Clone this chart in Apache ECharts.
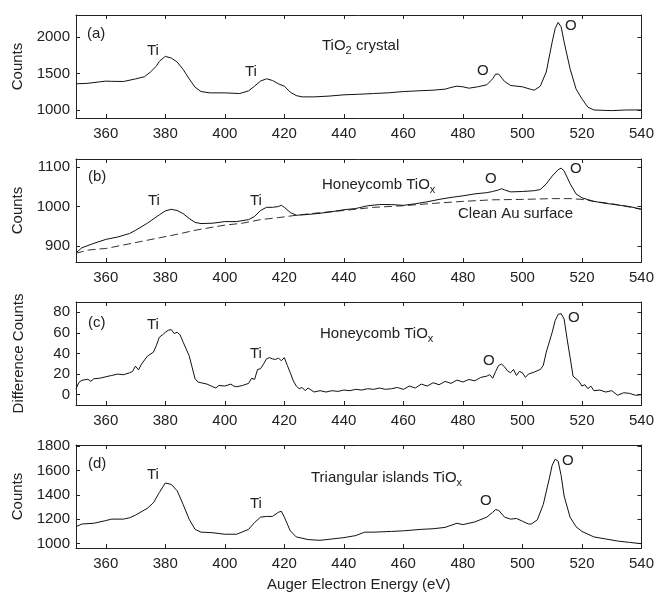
<!DOCTYPE html>
<html lang="en">
<head>
    <meta charset="UTF-8">
    <title>Auger spectra</title>
    <style>
        html, body { margin: 0; padding: 0; background: #fff; }
        #main { width: 657px; height: 597px; }
    </style>
    <script src="https://cdn.jsdelivr.net/npm/echarts@6/dist/echarts.min.js"></script>
</head>
<body>

<div id="main"></div>

<script>

    // (a) TiO2 crystal
    var energyA = [350,354,358,360,362,366,370,373,375,377,378,380,382,384,386,388,390,392,395,400,405,408,410,412,414,416,418,420,422,424,426,430,435,440,445,450,455,460,465,470,474,476,478,480,482,485,488,490,491,492,494,496,500,503,504,506,508,510,511,512,513,514,516,518,520,522,524,527,530,535,540];
    var countsA = [1358,1365,1385,1395,1392,1390,1425,1455,1519,1600,1665,1734,1711,1656,1555,1427,1312,1252,1234,1234,1225,1262,1326,1395,1427,1404,1358,1326,1243,1197,1179,1179,1190,1207,1215,1225,1235,1252,1262,1271,1285,1308,1326,1317,1298,1317,1344,1427,1491,1491,1390,1335,1317,1280,1271,1326,1519,1932,2115,2198,2138,1932,1565,1289,1151,1037,1000,995,991,1000,1000];

    // (b) Honeycomb TiOx and clean Au
    var energyB = [350,352,356,360,364,368,370,374,378,380,382,384,386,388,390,392,396,400,404,408,410,412,414,416,418,419,420,422,424,428,432,436,440,444,448,452,456,460,464,468,472,476,480,484,488,490,492,493,494,496,500,504,506,508,510,512,513,514,516,518,520,524,528,532,536,540];
    var countsB = [883,896,907,917,923,932,940,958,979,989,993,990,982,970,960,957,958,962,962,967,975,990,998,998,1000,1003,998,985,978,980,983,987,992,995,1002,1005,1005,1003,1007,1012,1018,1023,1027,1032,1035,1038,1042,1045,1042,1037,1038,1040,1043,1057,1077,1093,1097,1090,1058,1032,1022,1013,1008,1004,1000,993];
    var energyAu = [350,354,358,360,366,372,378,384,390,396,400,406,412,418,424,430,440,450,460,470,480,490,500,510,516,520,524,530,540];
    var countsAu = [882,890,893,894,903,912,921,930,940,948,953,958,967,972,978,983,990,998,1002,1008,1013,1017,1018,1020,1020,1018,1013,1007,993];

    // (c) difference spectrum
    var energyC = [350,351,352,354,355,356,358,360,362,364,366,368,369,370,371,372,374,376,377,378,379,380,381,382,383,384,385,386,387,388,389,390,391,392,394,396,397,398,400,402,403,404,406,408,409,410,411,412,413,414,415,416,417,418,419,420,421,422,423,424,425,426,427,428,430,432,434,436,438,440,442,444,446,448,450,452,454,456,458,460,462,464,466,468,470,472,474,476,478,480,482,484,486,488,489,490,491,492,493,494,495,496,497,498,499,500,501,502,504,506,507,508,509,510,511,512,513,514,515,516,517,518,519,520,521,522,523,524,526,528,530,532,534,536,538,540];
    var diffC = [5.8,12,14,15,13,15.5,16,17.4,18.7,20,19.4,21.3,22.6,27.7,24,29.7,37.4,41.3,47.7,55.8,58,60.6,62.6,63.2,59.4,60.6,58,51,44.5,38,26.8,15.5,12.3,11.6,10.3,7.7,6.5,9,8.4,10.3,8.4,7.7,9,11,16,14.8,24.5,25.2,29.7,34.8,36,34.8,34.2,35.5,33,36,28.4,21.3,13.5,8.4,5.8,7,3.9,6.5,2.6,3.9,2.6,3.9,3.2,4.5,3.9,5.2,4.5,5.8,5.2,6.5,5.2,5.8,7,5.2,8.4,6.5,10.3,8.4,11.6,9.7,12.9,11,14.2,12.3,14.8,13.5,16.8,18,19.4,16,22.6,28.4,29.7,27,23.2,21.3,24.5,18.7,22.6,21.3,16.8,20,22,24.5,28.4,41.3,51,60.6,72,78,78.7,73.5,54.2,36.5,18,15.5,13,8.4,9.7,5.8,8.4,3.9,4.5,2.6,3.9,-0.6,1.9,1.3,-0.6,0];

    // (d) Triangular islands TiOx
    var energyD = [350,352,356,360,362,366,368,370,374,376,378,380,382,384,386,388,390,392,396,400,404,408,410,412,414,416,418,419,420,422,424,428,432,436,440,444,447,450,456,460,466,470,474,478,480,484,488,490,491,492,494,496,498,500,502,503,505,507,509,510,511,512,513,514,516,518,520,524,528,532,536,540];
    var countsD = [1140,1162,1168,1190,1202,1202,1213,1235,1291,1336,1420,1498,1487,1434,1322,1202,1118,1095,1090,1078,1078,1118,1174,1218,1224,1224,1258,1266,1218,1106,1056,1034,1028,1039,1050,1067,1095,1095,1101,1106,1118,1123,1134,1168,1157,1179,1218,1258,1280,1274,1218,1202,1207,1185,1162,1162,1196,1322,1532,1644,1694,1677,1560,1392,1218,1140,1101,1056,1039,1022,1011,1000];

    // y ranges and label steps of the four panels
    var yMins = [890, 860, -10, 965];
    var yMaxs = [2300, 1120, 90, 1810];
    var ySteps = [500, 100, 20, 200];
    var yNames = ['Counts', 'Counts', 'Difference Counts', 'Counts'];
    var panelTops = [15, 159, 302, 445];

    function pairs(xs, ys) {
        var out = [];
        for (var i = 0; i < xs.length; i++) out.push([xs[i], ys[i]]);
        return out;
    }

    var font = 'Liberation Sans, Arial, sans-serif';
    var ink = '#222';

    var grids = [], xAxes = [], yAxes = [], series = [];

    for (var p = 0; p < 4; p++) {
        grids.push({ left: 76, right: 15, top: panelTops[p], height: 103 });
        var step = ySteps[p];
        // bottom x axis with labels
        xAxes.push({
            type: 'value', gridIndex: p, min: 350, max: 540, splitNumber: 10,
            position: 'bottom',
            name: p === 3 ? 'Auger Electron Energy (eV)' : '',
            nameLocation: 'middle', nameGap: 29,
            nameTextStyle: { fontFamily: font, fontSize: 15, color: ink },
            axisLine: { onZero: false, lineStyle: { color: ink, width: 1 } },
            axisTick: { inside: true, length: 4, lineStyle: { color: ink } },
            axisLabel: {
                fontFamily: font, fontSize: 15, color: ink, margin: 8,
                formatter: function (v) { return v % 20 === 0 ? v : ''; }
            },
            splitLine: { show: false }
        });
        // top x axis, ticks only
        xAxes.push({
            type: 'value', gridIndex: p, min: 350, max: 540, splitNumber: 10,
            position: 'top',
            axisLine: { onZero: false, lineStyle: { color: ink, width: 1 } },
            axisTick: { inside: true, length: 4, lineStyle: { color: ink } },
            axisLabel: { show: false },
            splitLine: { show: false }
        });
        yAxes.push({
            type: 'value', gridIndex: p, min: yMins[p], max: yMaxs[p],
            splitNumber: Math.round((yMaxs[p] - yMins[p]) / step),
            position: 'left',
            name: yNames[p], nameLocation: 'middle', nameGap: 50,
            nameTextStyle: { fontFamily: font, fontSize: 15, color: ink },
            axisLine: { show: true, onZero: false, lineStyle: { color: ink, width: 1 } },
            axisTick: { show: true, inside: true, length: 4, lineStyle: { color: ink } },
            axisLabel: {
                fontFamily: font, fontSize: 15, color: ink, margin: 6,
                formatter: (function (s) {
                    return function (v) { return v % s === 0 ? v : ''; };
                })(step)
            },
            splitLine: { show: false }
        });
        yAxes.push({
            type: 'value', gridIndex: p, min: yMins[p], max: yMaxs[p],
            splitNumber: Math.round((yMaxs[p] - yMins[p]) / step),
            position: 'right',
            axisLine: { show: true, onZero: false, lineStyle: { color: ink, width: 1 } },
            axisTick: { show: true, inside: true, length: 4, lineStyle: { color: ink } },
            axisLabel: { show: false },
            splitLine: { show: false }
        });
    }

    function line(data, p, dashed) {
        return {
            type: 'line', xAxisIndex: 2 * p, yAxisIndex: 2 * p, data: data,
            showSymbol: false, smooth: false, animation: false,
            lineStyle: { color: dashed ? '#333' : '#111', width: 1, type: dashed ? [8, 4] : 'solid' }
        };
    }

    series.push(line(pairs(energyA, countsA), 0, false));
    series.push(line(pairs(energyAu, countsAu), 1, true));
    series.push(line(pairs(energyB, countsB), 1, false));
    series.push(line(pairs(energyC, diffC), 2, false));
    series.push(line(pairs(energyD, countsD), 3, false));

    // text annotations: [text, left x, centre y]
    var notes = [
        ['(a)', 87, 35], ['Ti', 147, 52], ['Ti', 245, 73], ['{n|TiO}{s|2}{n| crystal}', 322, 45], ['O', 477, 72], ['O', 565, 27],
        ['(b)', 88, 178], ['Ti', 148, 202], ['Ti', 250, 202], ['{n|Honeycomb TiO}{s|x}', 322, 184], ['O', 485, 180], ['O', 570, 170], ['Clean Au surface', 458, 215],
        ['(c)', 88, 324], ['Ti', 147, 326], ['Ti', 250, 355], ['{n|Honeycomb TiO}{s|x}', 320, 333], ['O', 483, 362], ['O', 568, 319],
        ['(d)', 88, 465], ['Ti', 147, 476], ['Ti', 250, 505], ['{n|Triangular islands TiO}{s|x}', 311, 477], ['O', 480, 502], ['O', 562, 462]
    ];
    var graphics = notes.map(function (n) {
        return {
            type: 'text', left: n[1], top: n[2] - 9, silent: true,
            style: {
                text: n[0], fill: ink, font: '15px ' + font,
                rich: {
                    n: { fontFamily: font, fontSize: 15, color: ink, lineHeight: 18 },
                    s: { fontFamily: font, fontSize: 11, color: ink, lineHeight: 18, padding: [9, 0, 0, 0] }
                }
            }
        };
    });

    var myChart = echarts.init(document.getElementById('main'), null, { renderer: 'canvas' });
    var option = {
        animation: false,
        backgroundColor: '#fff',
        grid: grids,
        xAxis: xAxes,
        yAxis: yAxes,
        series: series,
        graphic: graphics
    };
    option && myChart.setOption(option);

</script>

</body>
</html>
